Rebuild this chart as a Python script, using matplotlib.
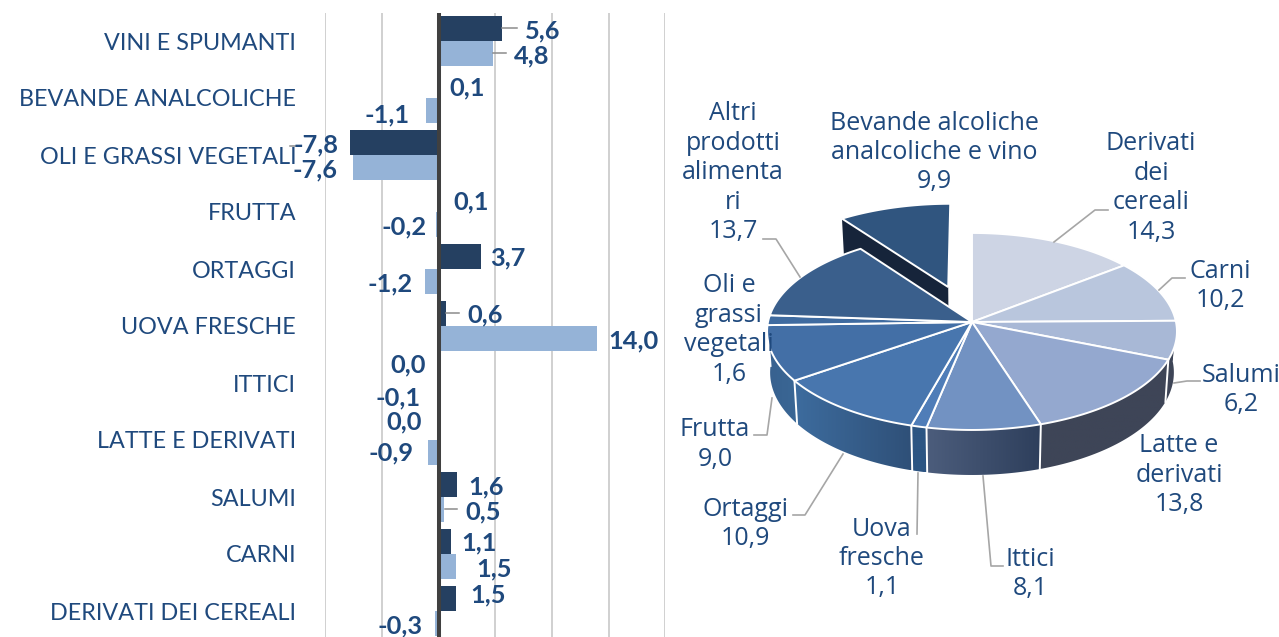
import numpy as np
import matplotlib
matplotlib.use("Agg")
import matplotlib.pyplot as plt
from matplotlib.colors import to_rgb
from matplotlib.patches import Polygon

# ---------- data ----------
categories = ["VINI E SPUMANTI", "BEVANDE ANALCOLICHE", "OLI E GRASSI VEGETALI", "FRUTTA",
              "ORTAGGI", "UOVA FRESCHE", "ITTICI", "LATTE E DERIVATI", "SALUMI", "CARNI",
              "DERIVATI DEI CEREALI"]
series_dark = [5.6, 0.1, -7.8, 0.1, 3.7, 0.6, 0.0, 0.0, 1.6, 1.1, 1.5]
series_light = [4.8, -1.1, -7.6, -0.2, -1.2, 14.0, -0.1, -0.9, 0.5, 1.5, -0.3]

pie_names = [["Derivati", "dei", "cereali"], ["Carni"], ["Salumi"], ["Latte e", "derivati"],
             ["Ittici"], ["Uova", "fresche"], ["Ortaggi"], ["Frutta"],
             ["Oli e", "grassi", "vegetali"], ["Altri", "prodotti", "alimenta", "ri"],
             ["Bevande alcoliche", "analcoliche e vino"]]
pie_values = [14.3, 10.2, 6.2, 13.8, 8.1, 1.1, 10.9, 9.0, 1.6, 13.7, 9.9]

# ---------- layout and style (pixels) ----------
W, H = 1279, 637
TXT = "#1F497D"
dark_pos = [(543, 30), (467, 87), (316, 144), (471, 201), (508, 257), (485, 314), (408, 364),
            (404, 421), (486, 486), (479, 542), (488, 594)]
light_pos = [(532, 55), (387, 114), (315, 169), (404, 226), (390, 283), (633, 340), (398, 397),
             (391, 452), (483, 511), (494, 568), (400, 625)]
bar_leaders = [((502, 28), (517, 28)), ((493, 53), (506, 53)), ((446, 313), (459, 313)),
               ((445, 509), (457, 509)), ((290, 146), (297, 146))]
label_pos = [(1151, 142), (1220, 269), (1241, 373), (1179, 444), (1030, 557), (882, 527),
             (745, 507), (715, 428), (729, 284), (733, 112), (934, 121)]
pie_leaders = [[(1054, 242), (1095, 210), (1108, 210)], [(1159, 290), (1172, 278), (1185, 278)],
               [(1174, 383), (1187, 381), (1200, 381)], [(983, 476), (991, 566), (1003, 566)],
               [(918, 473), (917, 534)], [(843, 454), (805, 515), (793, 515)],
               [(772, 398), (767, 435), (754, 435)], [(800, 277), (776, 239), (763, 239)]]
top_colors = ["#CDD4E4", "#B9C6DD", "#A8B8D6", "#94A8CF", "#7292C2", "#4F7DB8", "#4876AE",
              "#436FA6", "#3F6BA0", "#3A5F8C", "#30557F"]
wall_colors = [("#3E4557", "#3E4557")] * 4 + [("#2E3F5C", "#4C5D7C"), ("#2C5583", "#2C5583"),
               ("#2F5078", "#3D6C9E"), ("#3A6795", "#38618F"), ("#38618F", "#38618F"),
               ("#38618F", "#38618F"), ("#16243A", "#16243A")]
CX, CY, A, B, K, DEPTH, SHRINK, EXPL = 972, 322, 204, 97.6, 0.096, 40.7, 0.985, 0.39

fig = plt.figure(figsize=(W / 100, H / 100), dpi=100)

# ---------- bar chart ----------
ax = fig.add_axes([325.3 / W, (H - 639.5) / H, (665.5 - 325.3) / W, 627 / H])
y = np.arange(len(categories))
bw = 25 / 57
ax.barh(y - bw / 2, series_dark, height=bw, color="#254061", zorder=2)
ax.barh(y + bw / 2, series_light, height=bw, color="#95B3D7", zorder=2)
ax.set_xlim(-10, 20)
ax.set_ylim(len(categories) - 0.5, -0.5)
ax.set_xticks(np.arange(-10, 21, 5))
ax.set_xticklabels([])
ax.tick_params(axis="x", length=0)
ax.grid(axis="x", color="#C4C4C4", lw=1.1, zorder=0)
ax.set_axisbelow(True)
ax.set_yticks(y)
ax.set_yticklabels(categories, fontsize=16.8, color=TXT, family="Lato")
ax.tick_params(axis="y", length=0, pad=21)
for s in ax.spines.values():
    s.set_visible(False)
ax.axvline(0, color="#404040", lw=2.9, zorder=3)

# ---------- overlay in pixel coordinates ----------
ov = fig.add_axes([0, 0, 1, 1], zorder=5)
ov.axis("off")
ov.patch.set_alpha(0)


def fmt(v):
    return f"{v:.1f}".replace(".", ",")


for vals, pos in ((series_dark, dark_pos), (series_light, light_pos)):
    for v, (px, py) in zip(vals, pos):
        ov.text(px, py + 8.8, fmt(v), ha="center", va="baseline", fontsize=18.3,
                fontweight="bold", color=TXT, family="Lato", zorder=8)
for p0, p1 in bar_leaders:
    ov.plot([p0[0], p1[0]], [p0[1], p1[1]], color="#8C8C8C", lw=1.1, zorder=3)


def project(theta, r=1.0, off=(0.0, 0.0)):
    u = r * np.sin(theta) + off[0]
    v = r * np.cos(theta) + off[1]
    w = 1 + K * v
    return CX + A * u / w, CY - B * v / w, w


def lower(x, y_, w):
    return CX + (x - CX) * SHRINK, y_ + DEPTH / w


fracs = np.array(pie_values) / np.sum(pie_values)
edges = np.concatenate([[0], np.cumsum(fracs)]) * 2 * np.pi
n = len(pie_values)

# exploded wedge (last slice) goes behind the pie
mid = (edges[-2] + edges[-1]) / 2
off = (EXPL * np.sin(mid), EXPL * np.cos(mid))
cx_, cy_, cw_ = project(0, 0, off)
ox_, oy_, ow_ = project(edges[-2], 1, off)
lc = lower(cx_, cy_, cw_)
lo = lower(ox_, oy_, ow_)
ov.fill([cx_, ox_, lo[0], lc[0]], [cy_, oy_, lo[1], lc[1]], color=wall_colors[-1][0], lw=0, zorder=1)
th = np.linspace(edges[-2], edges[-1], 40)
px, py, _ = project(th, 1, off)
ov.fill(np.r_[cx_, px], np.r_[cy_, py], facecolor=top_colors[-1], edgecolor="white", lw=1.4, zorder=1.5)

# outer walls of the main pie: one horizontal gradient per slice, clipped to its wall
for i in range(n - 1):
    th0 = max(edges[i], np.deg2rad(70))
    th1 = min(edges[i + 1], np.deg2rad(285))
    if th1 <= th0:
        continue
    grid = np.linspace(th0, th1, 60)
    tx, ty, tw = project(grid)
    bx, by = lower(tx, ty, tw)
    xs = np.r_[tx, bx[::-1]]
    ys = np.r_[ty, by[::-1]]
    c_start, c_end = np.array(to_rgb(wall_colors[i][0])), np.array(to_rgb(wall_colors[i][1]))
    t = np.linspace(0, 1, 128)[:, None]
    # x decreases going round the front, so the end colour lies on the left of the image
    grad = (c_end + (c_start - c_end) * t)[None, :, :]
    clip = Polygon(np.c_[xs, ys], closed=True, transform=ov.transData, facecolor="none", edgecolor="none")
    ov.add_patch(clip)
    im = ov.imshow(grad, extent=[xs.min(), xs.max(), ys.max(), ys.min()], aspect="auto",
                   interpolation="bilinear", zorder=2)
    im.set_clip_path(clip)

ov.set_xlim(0, W)
ov.set_ylim(H, 0)

# white separators on the wall
for e in edges[3:9]:
    x0, y0, w0 = project(e)
    bx0, by0 = lower(x0, y0, w0)
    ov.plot([x0, bx0], [y0, by0], color="white", lw=1.4, zorder=2.5)

# top faces
for i in range(n - 1):
    th = np.linspace(edges[i], edges[i + 1], 60)
    px, py, _ = project(th)
    ov.fill(np.r_[CX, px], np.r_[CY, py], facecolor=top_colors[i], edgecolor="white", lw=1.4,
            joinstyle="round", zorder=3)

for pts in pie_leaders:
    xs, ys = zip(*pts)
    ov.plot(xs, ys, color="#A6A6A6", lw=1.2, zorder=4)

# pie labels
for names, v, (lx, ly) in zip(pie_names, pie_values, label_pos):
    for k, line in enumerate(names + [fmt(v)]):
        ov.text(lx, ly + 29.4 * k + 8.5, line, ha="center", va="baseline", fontsize=18,
                color=TXT, family="Open Sans", zorder=6)

fig.savefig("out.png", dpi=100)
